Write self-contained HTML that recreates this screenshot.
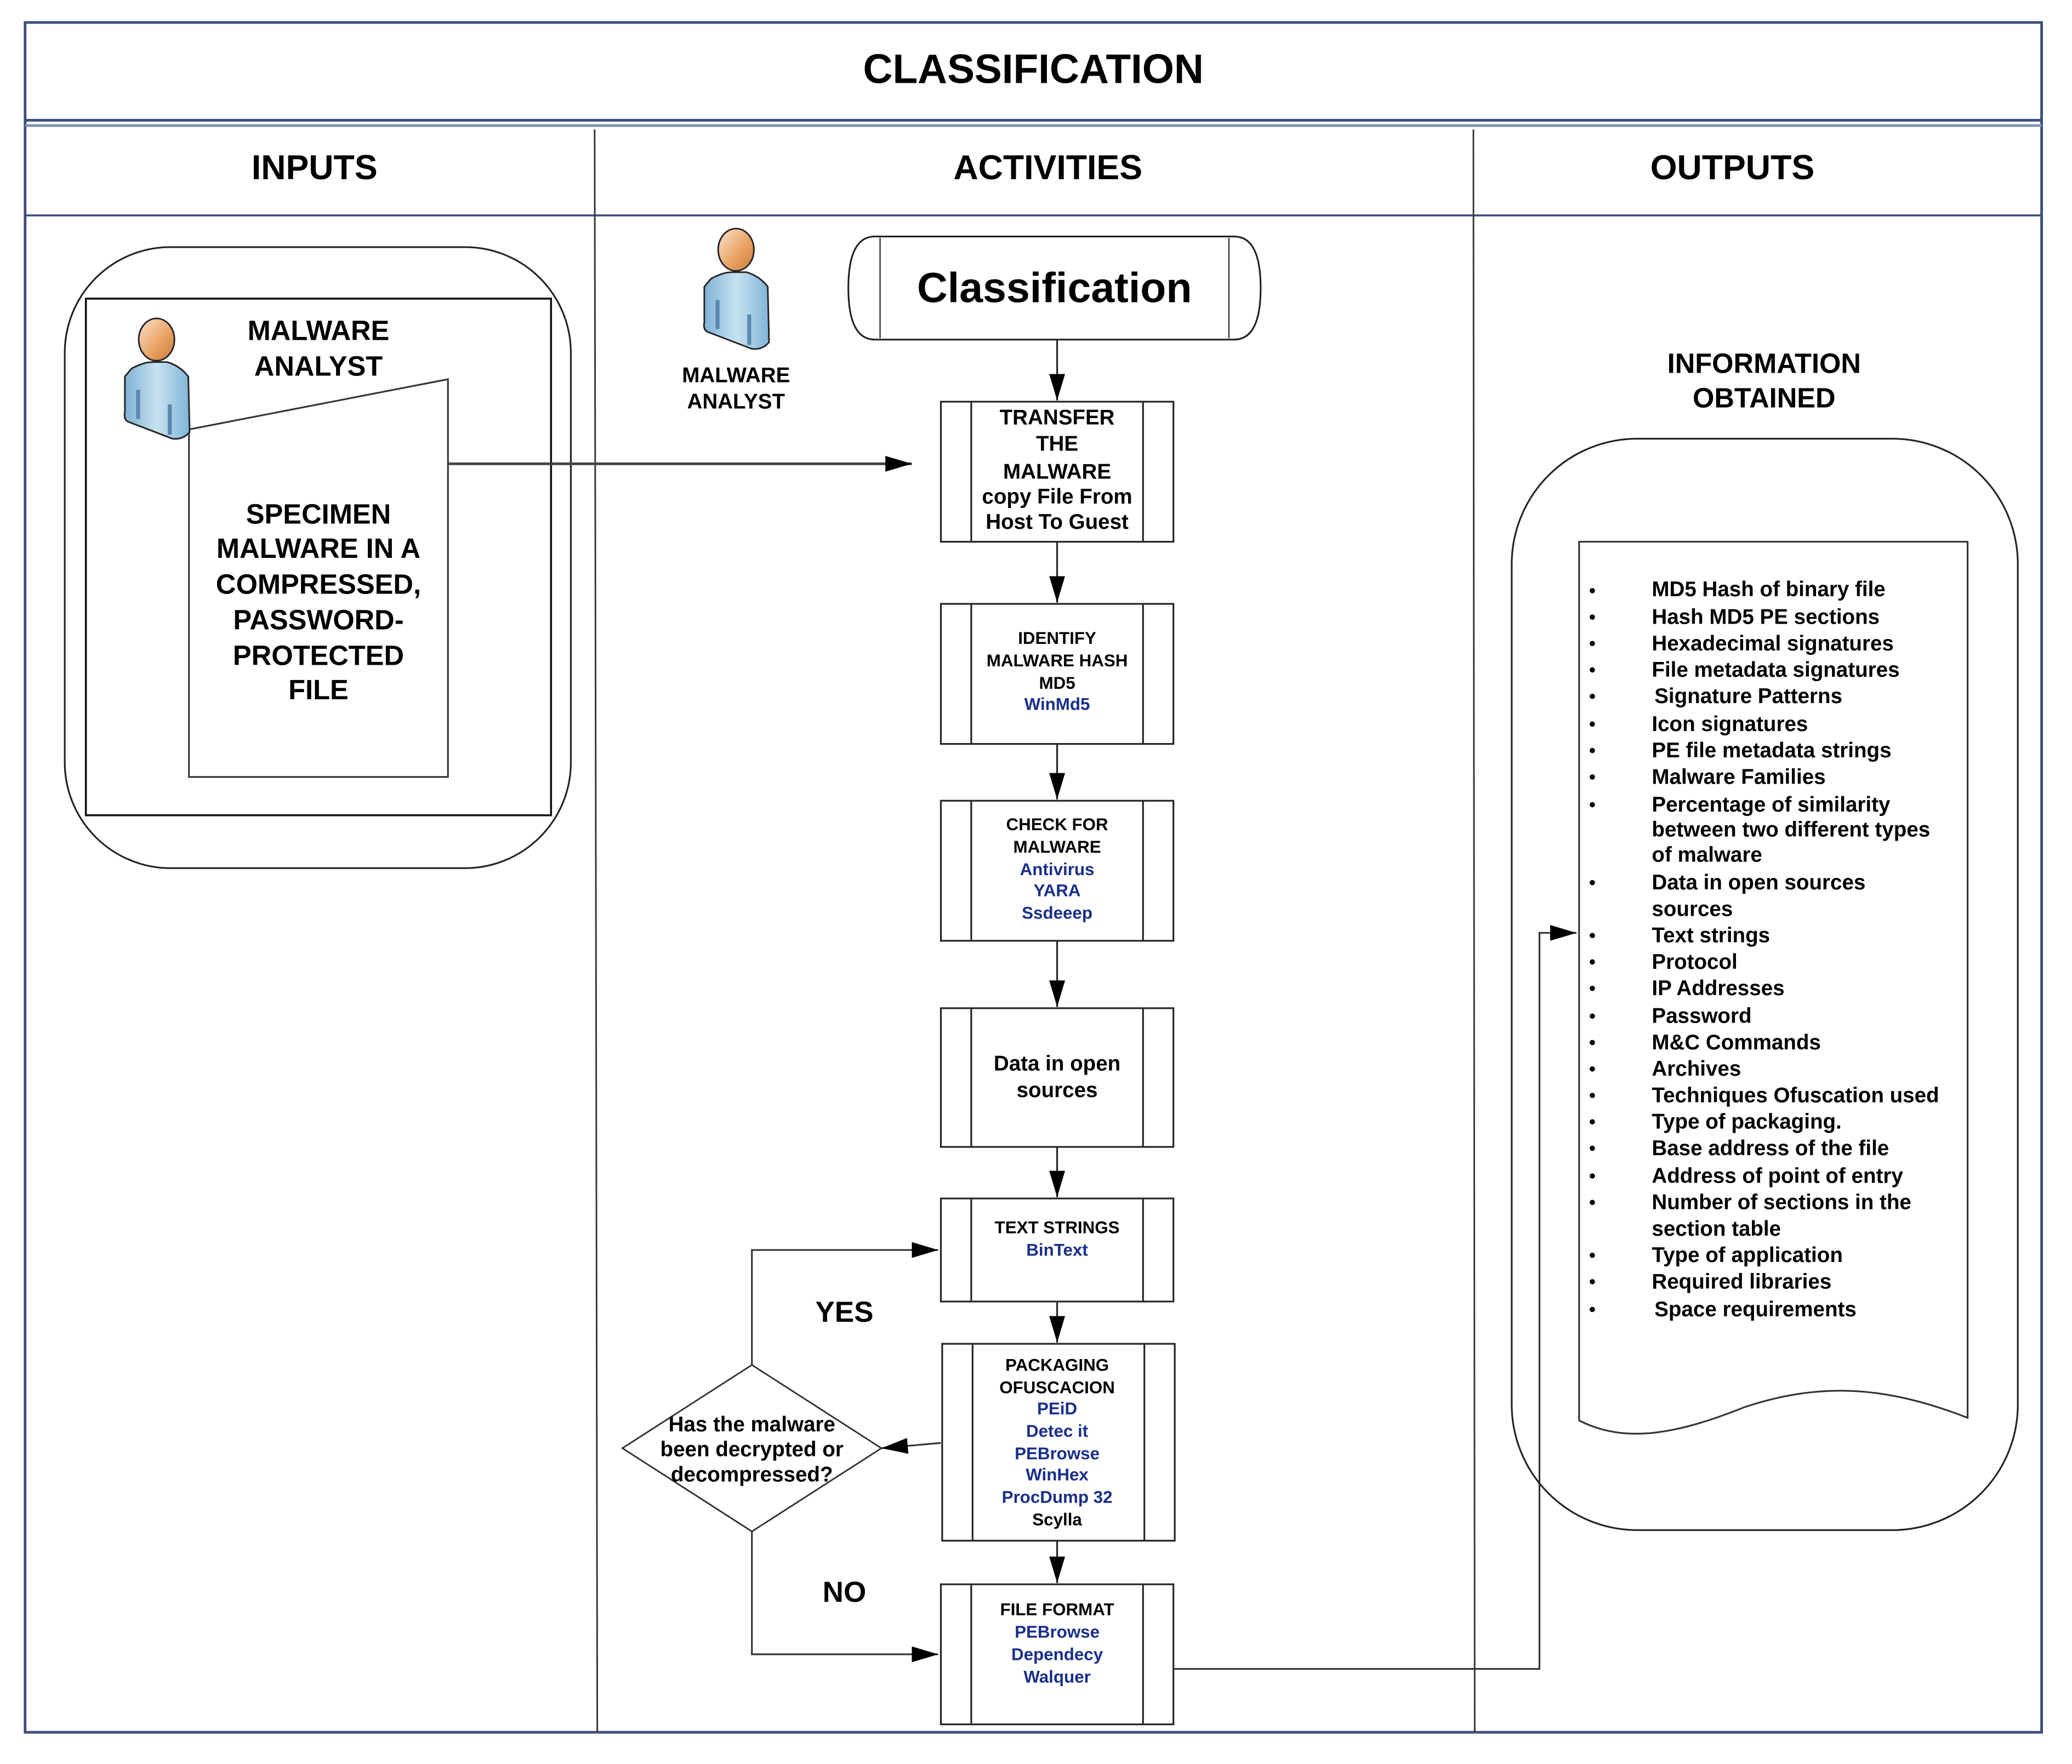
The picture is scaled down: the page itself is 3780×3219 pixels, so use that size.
<!DOCTYPE html>
<html><head><meta charset="utf-8"><style>
html,body{margin:0;padding:0;background:#fff;}
svg{display:block;}
text{font-family:"Liberation Sans",sans-serif;font-weight:bold;fill:#000;}
.b{fill:#1a2f8a;}
</style></head><body>
<svg width="3780" height="3219" viewBox="0 0 1568 1335" preserveAspectRatio="none" xmlns="http://www.w3.org/2000/svg">
<defs>
<marker id="ar" markerWidth="20" markerHeight="12" refX="20" refY="6" orient="auto" markerUnits="userSpaceOnUse"><path d="M0,0 L20,6 L0,12 Z" fill="#000"/></marker>
<linearGradient id="hg" x1="0" y1="0" x2="1" y2="1"><stop offset="0" stop-color="#fbe3cc"/><stop offset="0.6" stop-color="#e8a060"/><stop offset="1" stop-color="#c97a3a"/></linearGradient>
<linearGradient id="bg" x1="0" y1="0" x2="1" y2="0"><stop offset="0" stop-color="#7fb0d6"/><stop offset="0.5" stop-color="#c7e3ef"/><stop offset="1" stop-color="#7fb4d8"/></linearGradient>
<g id="person">
<path d="M-19,22 Q-10,17 -3,17 L8,17 Q18,20 24,28 L25,70 Q20,76 12,75 L-22,62 Q-25,60 -24,55 L-24,28 Z" fill="url(#bg)" stroke="#222" stroke-width="1.2"/>
<path d="M-14,38 L-14,60 M10,49 L10,72" stroke="#5a88b0" stroke-width="3"/>
<ellipse cx="0" cy="0" rx="13.5" ry="16" fill="url(#hg)" stroke="#222" stroke-width="1.2"/>
</g>
</defs>

<rect x="19" y="17" width="1526" height="1294" fill="none" stroke="#3d4c7c" stroke-width="2"/>
<line x1="19" y1="91" x2="1545" y2="91" stroke="#3d4c7c" stroke-width="2"/>
<line x1="19" y1="95" x2="1545" y2="95" stroke="#8090b8" stroke-width="2"/>
<line x1="19" y1="163" x2="1545" y2="163" stroke="#3d4c7c" stroke-width="1.5"/>
<line x1="450" y1="98" x2="452" y2="1311" stroke="#333" stroke-width="1.2"/>
<line x1="1115" y1="98" x2="1116" y2="1311" stroke="#333" stroke-width="1.2"/>
<text x="782" y="52" font-size="31" text-anchor="middle" dominant-baseline="central">CLASSIFICATION</text>
<text x="238" y="127" font-size="26" text-anchor="middle" dominant-baseline="central">INPUTS</text>
<text x="793" y="127" font-size="26" text-anchor="middle" dominant-baseline="central">ACTIVITIES</text>
<text x="1311" y="127" font-size="26" text-anchor="middle" dominant-baseline="central">OUTPUTS</text>

<rect x="49" y="187" width="383" height="470" rx="80" ry="80" fill="none" stroke="#222" stroke-width="1.3"/>
<rect x="65" y="226" width="352" height="391" fill="none" stroke="#111" stroke-width="1.5"/>
<polygon points="143,325 339,287 339,588 143,588" fill="#fff" stroke="#333" stroke-width="1.3"/>
<use href="#person" x="118.5" y="257"/>
<text x="241" y="250" font-size="21" text-anchor="middle" dominant-baseline="central">MALWARE</text>
<text x="241" y="277" font-size="21" text-anchor="middle" dominant-baseline="central">ANALYST</text>
<g font-size="21" text-anchor="middle">
<text x="241" y="389" dominant-baseline="central">SPECIMEN</text>
<text x="241" y="415" dominant-baseline="central">MALWARE IN A</text>
<text x="241" y="442" dominant-baseline="central">COMPRESSED,</text>
<text x="241" y="469" dominant-baseline="central">PASSWORD-</text>
<text x="241" y="496" dominant-baseline="central">PROTECTED</text>
<text x="241" y="522" dominant-baseline="central">FILE</text>
</g>
<line x1="339" y1="351" x2="690" y2="351" stroke="#444" stroke-width="2" marker-end="url(#ar)"/>

<use href="#person" x="557" y="189"/>
<text x="557" y="284" font-size="16" text-anchor="middle" dominant-baseline="central">MALWARE</text>
<text x="557" y="304" font-size="16" text-anchor="middle" dominant-baseline="central">ANALYST</text>
<path d="M662,179 H934 Q954,179 954,218 Q954,257 934,257 H662 Q642,257 642,218 Q642,179 662,179 Z" fill="none" stroke="#222" stroke-width="1.3"/>
<line x1="666" y1="180" x2="666" y2="256" stroke="#333"/>
<line x1="930" y1="180" x2="930" y2="256" stroke="#333"/>
<text x="798" y="218" font-size="32" text-anchor="middle" dominant-baseline="central">Classification</text>

<g stroke="#222" stroke-width="1.3" fill="none">
<rect x="712" y="304" width="176" height="106"/><line x1="735" y1="304" x2="735" y2="410"/><line x1="865" y1="304" x2="865" y2="410"/>
<rect x="712" y="457" width="176" height="106"/><line x1="735" y1="457" x2="735" y2="563"/><line x1="865" y1="457" x2="865" y2="563"/>
<rect x="712" y="606" width="176" height="106"/><line x1="735" y1="606" x2="735" y2="712"/><line x1="865" y1="606" x2="865" y2="712"/>
<rect x="712" y="763" width="176" height="105"/><line x1="735" y1="763" x2="735" y2="868"/><line x1="865" y1="763" x2="865" y2="868"/>
<rect x="712" y="907" width="176" height="78"/><line x1="735" y1="907" x2="735" y2="985"/><line x1="865" y1="907" x2="865" y2="985"/>
<rect x="713" y="1017" width="176" height="149"/><line x1="736" y1="1017" x2="736" y2="1166"/><line x1="866" y1="1017" x2="866" y2="1166"/>
<rect x="712" y="1199" width="176" height="106"/><line x1="735" y1="1199" x2="735" y2="1305"/><line x1="865" y1="1199" x2="865" y2="1305"/>
</g>
<g stroke="#222" stroke-width="1.3">
<line x1="800" y1="257" x2="800" y2="303" marker-end="url(#ar)"/>
<line x1="800" y1="410" x2="800" y2="456" marker-end="url(#ar)"/>
<line x1="800" y1="563" x2="800" y2="605" marker-end="url(#ar)"/>
<line x1="800" y1="712" x2="800" y2="762" marker-end="url(#ar)"/>
<line x1="800" y1="868" x2="800" y2="906" marker-end="url(#ar)"/>
<line x1="800" y1="985" x2="800" y2="1016" marker-end="url(#ar)"/>
<line x1="800" y1="1166" x2="800" y2="1198" marker-end="url(#ar)"/>
</g>
<g font-size="16" text-anchor="middle">
<text x="800" y="316" dominant-baseline="central">TRANSFER</text>
<text x="800" y="336" dominant-baseline="central">THE</text>
<text x="800" y="357" dominant-baseline="central">MALWARE</text>
<text x="800" y="376" dominant-baseline="central">copy File From</text>
<text x="800" y="395" dominant-baseline="central">Host To Guest</text>
</g>
<g font-size="13" text-anchor="middle">
<text x="800" y="483" dominant-baseline="central">IDENTIFY</text>
<text x="800" y="500" dominant-baseline="central">MALWARE HASH</text>
<text x="800" y="517" dominant-baseline="central">MD5</text>
<text x="800" y="533" class="b" dominant-baseline="central">WinMd5</text>
<text x="800" y="624" dominant-baseline="central">CHECK FOR</text>
<text x="800" y="641" dominant-baseline="central">MALWARE</text>
<text x="800" y="658" class="b" dominant-baseline="central">Antivirus</text>
<text x="800" y="674" class="b" dominant-baseline="central">YARA</text>
<text x="800" y="691" class="b" dominant-baseline="central">Ssdeeep</text>
<text x="800" y="929" dominant-baseline="central">TEXT STRINGS</text>
<text x="800" y="946" class="b" dominant-baseline="central">BinText</text>
<text x="800" y="1033" dominant-baseline="central">PACKAGING</text>
<text x="800" y="1050" dominant-baseline="central">OFUSCACION</text>
<text x="800" y="1066" class="b" dominant-baseline="central">PEiD</text>
<text x="800" y="1083" class="b" dominant-baseline="central">Detec it</text>
<text x="800" y="1100" class="b" dominant-baseline="central">PEBrowse</text>
<text x="800" y="1116" class="b" dominant-baseline="central">WinHex</text>
<text x="800" y="1133" class="b" dominant-baseline="central">ProcDump 32</text>
<text x="800" y="1150" dominant-baseline="central">Scylla</text>
<text x="800" y="1218" dominant-baseline="central">FILE FORMAT</text>
<text x="800" y="1235" class="b" dominant-baseline="central">PEBrowse</text>
<text x="800" y="1252" class="b" dominant-baseline="central">Dependecy</text>
<text x="800" y="1269" class="b" dominant-baseline="central">Walquer</text>
</g>
<text x="800" y="805" font-size="16" text-anchor="middle" dominant-baseline="central">Data in open</text>
<text x="800" y="825" font-size="16" text-anchor="middle" dominant-baseline="central">sources</text>

<polygon points="569,1033 667,1096 569,1159 471,1096" fill="none" stroke="#333" stroke-width="1.2"/>
<g font-size="16" text-anchor="middle">
<text x="569" y="1078" dominant-baseline="central">Has the malware</text>
<text x="569" y="1097" dominant-baseline="central">been decrypted or</text>
<text x="569" y="1116" dominant-baseline="central">decompressed?</text>
</g>
<g stroke="#333" stroke-width="1.3" fill="none">
<line x1="712" y1="1092" x2="667" y2="1096" marker-end="url(#ar)"/>
<polyline points="569,1033 569,946 710,946" marker-end="url(#ar)"/>
<polyline points="569,1159 569,1252 710,1252" marker-end="url(#ar)"/>
<polyline points="888,1263 1165,1263 1165,706 1193,706" marker-end="url(#ar)"/>
</g>
<text x="639" y="993" font-size="22" text-anchor="middle" dominant-baseline="central">YES</text>
<text x="639" y="1205" font-size="22" text-anchor="middle" dominant-baseline="central">NO</text>

<text x="1335" y="275" font-size="21" text-anchor="middle" dominant-baseline="central">INFORMATION</text>
<text x="1335" y="301" font-size="21" text-anchor="middle" dominant-baseline="central">OBTAINED</text>
<rect x="1144" y="332" width="383" height="826" rx="95" ry="95" fill="none" stroke="#222" stroke-width="1.3"/>
<path d="M1195,410 H1489 V1073 C1430,1050 1380,1045 1320,1065 C1270,1085 1230,1093 1195,1075 Z" fill="#fff" stroke="#333" stroke-width="1.3"/>
<g font-size="16">
<text x="1250" y="446" dominant-baseline="central">MD5 Hash of binary file</text>
<text x="1250" y="467" dominant-baseline="central">Hash MD5 PE sections</text>
<text x="1250" y="487" dominant-baseline="central">Hexadecimal signatures</text>
<text x="1250" y="507" dominant-baseline="central">File metadata signatures</text>
<text x="1252" y="527" dominant-baseline="central">Signature Patterns</text>
<text x="1250" y="548" dominant-baseline="central">Icon signatures</text>
<text x="1250" y="568" dominant-baseline="central">PE file metadata strings</text>
<text x="1250" y="588" dominant-baseline="central">Malware Families</text>
<text x="1250" y="609" dominant-baseline="central">Percentage of similarity</text>
<text x="1250" y="628" dominant-baseline="central">between two different types</text>
<text x="1250" y="647" dominant-baseline="central">of malware</text>
<text x="1250" y="668" dominant-baseline="central">Data in open sources</text>
<text x="1250" y="688" dominant-baseline="central">sources</text>
<text x="1250" y="708" dominant-baseline="central">Text strings</text>
<text x="1250" y="728" dominant-baseline="central">Protocol</text>
<text x="1250" y="748" dominant-baseline="central">IP Addresses</text>
<text x="1250" y="769" dominant-baseline="central">Password</text>
<text x="1250" y="789" dominant-baseline="central">M&amp;C Commands</text>
<text x="1250" y="809" dominant-baseline="central">Archives</text>
<text x="1250" y="829" dominant-baseline="central">Techniques Ofuscation used</text>
<text x="1250" y="849" dominant-baseline="central">Type of packaging.</text>
<text x="1250" y="869" dominant-baseline="central">Base address of the file</text>
<text x="1250" y="890" dominant-baseline="central">Address of point of entry</text>
<text x="1250" y="910" dominant-baseline="central">Number of sections in the</text>
<text x="1250" y="930" dominant-baseline="central">section table</text>
<text x="1250" y="950" dominant-baseline="central">Type of application</text>
<text x="1250" y="970" dominant-baseline="central">Required libraries</text>
<text x="1252" y="991" dominant-baseline="central">Space requirements</text>
</g>
<g fill="#000">
<circle cx="1205" cy="447" r="2"/><circle cx="1205" cy="467" r="2"/><circle cx="1205" cy="487" r="2"/><circle cx="1205" cy="507" r="2"/><circle cx="1205" cy="527" r="2"/><circle cx="1205" cy="548" r="2"/><circle cx="1205" cy="568" r="2"/><circle cx="1205" cy="588" r="2"/><circle cx="1205" cy="609" r="2"/><circle cx="1205" cy="668" r="2"/><circle cx="1205" cy="708" r="2"/><circle cx="1205" cy="728" r="2"/><circle cx="1205" cy="748" r="2"/><circle cx="1205" cy="769" r="2"/><circle cx="1205" cy="789" r="2"/><circle cx="1205" cy="809" r="2"/><circle cx="1205" cy="829" r="2"/><circle cx="1205" cy="849" r="2"/><circle cx="1205" cy="869" r="2"/><circle cx="1205" cy="890" r="2"/><circle cx="1205" cy="910" r="2"/><circle cx="1205" cy="950" r="2"/><circle cx="1205" cy="970" r="2"/><circle cx="1205" cy="991" r="2"/>
</g>
</svg>
</body></html>
